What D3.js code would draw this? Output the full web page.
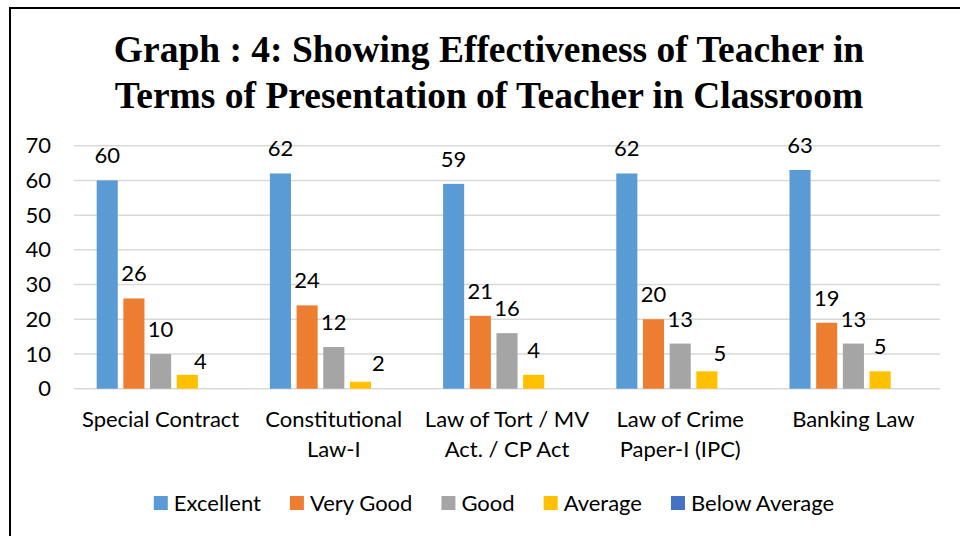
<!DOCTYPE html>
<html>
<head>
<meta charset="utf-8">
<script src="https://cdn.jsdelivr.net/npm/d3@7"></script>
<style>
  body { margin: 0; background: #fff; }
  svg { display: block; }
  .lbl { font-family: Lato, 'Open Sans', sans-serif; fill: #000; }
  .title { font-family: 'Liberation Serif', 'Times New Roman', serif; font-weight: bold; fill: #000; }
</style>
</head>
<body>
<div id="chart"></div>
<script>
const titleLines = [
  'Graph : 4: Showing Effectiveness of Teacher in',
  'Terms of Presentation of Teacher in Classroom'
]
const categories = [
  'Special Contract',
  'Constitutional\nLaw-I',
  'Law of Tort / MV\nAct. / CP Act',
  'Law of Crime\nPaper-I (IPC)',
  'Banking Law'
]
const seriesNames = ['Excellent', 'Very Good', 'Good', 'Average', 'Below Average']
const excellent = [60, 62, 59, 62, 63]
const veryGood = [26, 24, 21, 20, 19]
const good = [10, 12, 16, 13, 13]
const average = [4, 2, 4, 5, 5]
const belowAverage = [0, 0, 0, 0, 0]
const yTicks = [0, 10, 20, 30, 40, 50, 60, 70]

const colors = ['#5b9bd5', '#ed7d31', '#a5a5a5', '#ffc000', '#4472c4']
const seriesValues = [excellent, veryGood, good, average, belowAverage]

const width = 960
const height = 536
const margin = { top: 145.7, right: 20, bottom: 147.3, left: 74 }
const fontSize = 22

const svg = d3.select('#chart')
  .append('svg')
  .attr('width', width)
  .attr('height', height)

// outer frame, right and bottom edges fall outside the picture
svg.append('rect')
  .attr('x', 10)
  .attr('y', 8)
  .attr('width', 1000)
  .attr('height', 600)
  .attr('fill', 'none')
  .attr('stroke', '#000')
  .attr('stroke-width', 2)

svg.append('text')
  .attr('class', 'title')
  .attr('x', 489)
  .attr('text-anchor', 'middle')
  .style('font-size', '37.5px')
  .selectAll('tspan')
  .data(titleLines)
  .enter()
  .append('tspan')
  .attr('x', 489)
  .attr('y', (d, i) => 62 + i * 46)
  .text(d => d)

const x0 = d3.scaleBand()
  .domain(categories)
  .range([margin.left, 940])
  .padding(0)

const x1 = d3.scaleBand()
  .domain(seriesNames)
  .range([0, x0.bandwidth()])
  .paddingInner(0.21)
  .paddingOuter(0.85)

const y = d3.scaleLinear()
  .domain([0, 70])
  .range([388.7, margin.top])

// gridlines
svg.append('g')
  .selectAll('line')
  .data(yTicks)
  .enter()
  .append('line')
  .attr('x1', margin.left)
  .attr('x2', 940)
  .attr('y1', d => y(d))
  .attr('y2', d => y(d))
  .attr('stroke', '#d9d9d9')
  .attr('stroke-width', 1.5)

const yAxis = svg.append('g')
  .attr('transform', `translate(${margin.left},0)`)
  .call(d3.axisLeft(y).tickValues(yTicks).tickSize(0).tickPadding(23))
yAxis.select('.domain').remove()
yAxis.selectAll('text')
  .attr('class', 'lbl')
  .style('font-size', fontSize + 'px')
  .attr('fill', '#000')
  .attr('font-family', null)

// bars
const rows = []
categories.forEach((c, ci) => {
  seriesNames.forEach((s, si) => {
    rows.push({ cat: c, ci: ci, series: s, si: si, value: seriesValues[si][ci] })
  })
})

svg.append('g')
  .selectAll('rect')
  .data(rows)
  .enter()
  .append('rect')
  .attr('x', d => x0(d.cat) + x1(d.series))
  .attr('y', d => y(d.value))
  .attr('width', x1.bandwidth())
  .attr('height', d => y(0) - y(d.value))
  .attr('fill', d => colors[d.si])

// a few Average labels were dragged aside in the original
const nudge = { '3-0': [13, 11], '3-1': [18, 6], '3-3': [13, 7] }

svg.append('g')
  .selectAll('text')
  .data(rows.filter(d => d.si < 4))
  .enter()
  .append('text')
  .attr('class', 'lbl')
  .style('font-size', fontSize + 'px')
  .attr('text-anchor', 'middle')
  .attr('x', d => x0(d.cat) + x1(d.series) + x1.bandwidth() / 2 + (nudge[d.si + '-' + d.ci] || [0, 0])[0])
  .attr('y', d => y(d.value) - 17 + (nudge[d.si + '-' + d.ci] || [0, 0])[1])
  .text(d => d.value)

// category labels
svg.append('g')
  .selectAll('text')
  .data(categories)
  .enter()
  .append('text')
  .attr('class', 'lbl')
  .style('font-size', fontSize + 'px')
  .attr('text-anchor', 'middle')
  .each(function (d) {
    const t = d3.select(this)
    d.split('\n').forEach((line, i) => {
      t.append('tspan')
        .attr('x', x0(d) + x0.bandwidth() / 2)
        .attr('y', 427 + i * 30)
        .text(line)
    })
  })

// legend
const legend = svg.append('g')
let lx = 0
const items = seriesNames.map((s, i) => {
  const g = legend.append('g')
  g.append('rect')
    .attr('x', 0)
    .attr('y', -7)
    .attr('width', 14)
    .attr('height', 14)
    .attr('fill', colors[i])
  const txt = g.append('text')
    .attr('class', 'lbl')
    .style('font-size', fontSize + 'px')
    .attr('x', 20)
    .attr('dy', '0.35em')
    .text(s)
  const w = 20 + txt.node().getComputedTextLength()
  g.attr('transform', `translate(${lx},503)`)
  lx += w + 29
  return g
})
const legendWidth = lx - 29
legend.attr('transform', `translate(${494 - legendWidth / 2},0)`)
</script>
</body>
</html>
